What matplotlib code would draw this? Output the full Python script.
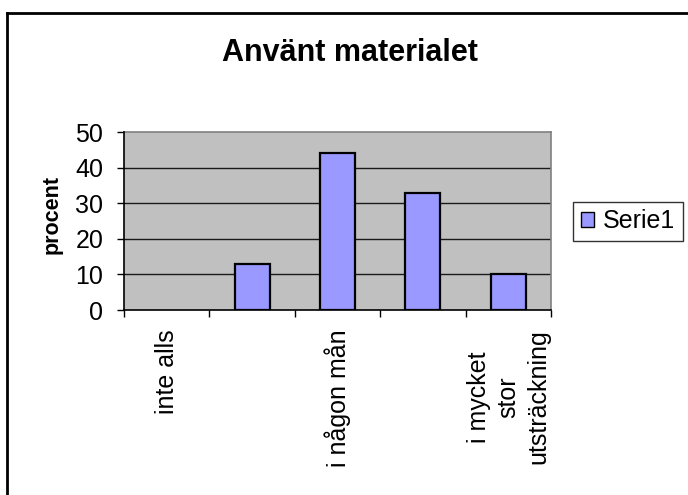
import matplotlib
matplotlib.use("Agg")
import matplotlib.pyplot as plt
from matplotlib.lines import Line2D
from matplotlib.ticker import FixedLocator, NullFormatter

plt.rcParams['font.family'] = ['Liberation Sans', 'DejaVu Sans']

title = "Använt materialet"
ylabel = "procent"
series_name = "Serie1"
categories = ["inte alls", "", "i någon mån", "", "i mycket\nstor\nutsträckning"]
values = [0, 13, 44, 33, 10]
yticks = [0, 10, 20, 30, 40, 50]

W, H = 688, 495
fig = plt.figure(figsize=(W / 100, H / 100), dpi=100)
fig.patch.set_facecolor("white")

L, R, T, B = 124, 551, 132, 310
ax = fig.add_axes([L / W, 1 - B / H, (R - L) / W, (B - T) / H])
ax.set_facecolor("#C0C0C0")

x = list(range(len(categories)))
ax.bar(x, values, width=0.41, color="#9999FF", edgecolor="black",
       linewidth=[0 if v == 0 else 1.6 for v in values], zorder=3)

ax.set_xlim(-0.5, len(categories) - 0.5)
ax.set_ylim(0, 50)
ax.set_yticks(yticks)
ax.set_yticklabels([str(v) for v in yticks], fontsize=18)
for v in yticks[1:-1]:
    ax.axhline(v, color="#1a1a1a", linewidth=1.0, zorder=1)

# category boundaries as tick marks, labels at centers
ax.xaxis.set_major_locator(FixedLocator([i - 0.5 for i in range(len(categories) + 1)]))
ax.xaxis.set_major_formatter(NullFormatter())
ax.set_xticks(x, minor=True)
ax.set_xticklabels(categories, minor=True, rotation=90, fontsize=18,
                   va="top", ha="center", multialignment="center", linespacing=1.3)
ax.tick_params(axis="x", which="major", direction="out", length=5, width=1, color="black")
ax.tick_params(axis="x", which="minor", length=0, pad=14)
ax.tick_params(axis="y", direction="out", length=5, width=1, color="black", pad=10)

for s in ["left", "bottom"]:
    ax.spines[s].set_color("black")
    ax.spines[s].set_linewidth(1.2)
    ax.spines[s].set_zorder(4)
for s in ["top", "right"]:
    ax.spines[s].set_color("#808080")
    ax.spines[s].set_linewidth(1.2)

fig.text(350 / W, 1 - 53 / H, title, fontsize=22, fontweight="bold", ha="center", va="center")
fig.text(52 / W, 1 - 214 / H, ylabel, fontsize=15.5, fontweight="bold", rotation=90,
         ha="center", va="center")

handle = plt.Rectangle((0, 0), 1, 1, facecolor="#9999FF", edgecolor="black", linewidth=1)
leg = fig.legend([handle], [series_name], loc="center left",
                 bbox_to_anchor=(573 / W, 1 - 221 / H), fontsize=18, frameon=True,
                 fancybox=False, shadow=False, handlelength=0.55, handleheight=0.55,
                 handletextpad=0.35, borderpad=0.3, borderaxespad=0)
leg.get_frame().set_edgecolor("black")
leg.get_frame().set_linewidth(1.0)

# outer chart border (extends beyond the image on right and bottom)
fig.add_artist(Line2D([6.5 / W, 1.0], [1 - 12.5 / H, 1 - 12.5 / H], color="black", linewidth=2,
                      transform=fig.transFigure))
fig.add_artist(Line2D([6.5 / W, 6.5 / W], [0, 1 - 12.5 / H], color="black", linewidth=2,
                      transform=fig.transFigure))

fig.savefig("out.png", dpi=100)
